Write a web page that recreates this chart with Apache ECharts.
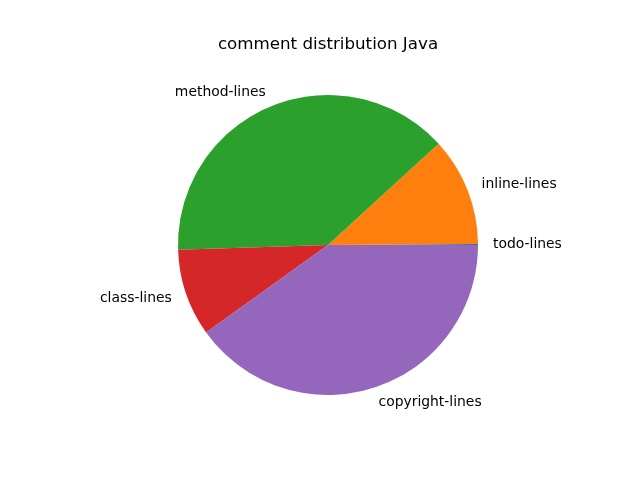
<!DOCTYPE html>
<html>
<head>
<meta charset="utf-8">
<script src="https://cdn.jsdelivr.net/npm/echarts@6/dist/echarts.min.js"></script>
<style>html,body{margin:0;padding:0;background:#fff}#c{width:640px;height:486px}</style>
</head>
<body>
<div id="c"></div>
<script>
const categories = ['todo-lines', 'inline-lines', 'method-lines', 'class-lines', 'copyright-lines'];
const values = [0.1, 11.7, 38.7, 9.4, 40.1];
const colors = ['#1f77b4', '#ff7f0e', '#2ca02c', '#d62728', '#9467bd'];

const chart = echarts.init(document.getElementById('c'), null, {renderer: 'canvas'});
chart.setOption({
  animation: false,
  backgroundColor: '#ffffff',
  title: {
    text: 'comment distribution Java',
    left: 323, top: 31, textAlign: 'center',
    textStyle: {fontFamily: 'DejaVu Sans', fontSize: 16.7, fontWeight: 'normal', color: '#000'}
  },
  series: [{
    type: 'pie',
    center: [328, 245],
    radius: [0, 150],
    startAngle: 0,
    clockwise: false,
    avoidLabelOverlap: false,
    minShowLabelAngle: 0,
    data: categories.map((n, i) => ({name: n, value: values[i], itemStyle: {color: colors[i]}})),
    itemStyle: {borderWidth: 0},
    label: {
      show: true, position: 'outside', formatter: '{b}', distanceToLabelLine: 0,
      fontFamily: 'DejaVu Sans', fontSize: 13.9, color: '#000'
    },
    labelLine: {show: false, length: 15, length2: 0},
    emphasis: {disabled: true}
  }]
});
</script>
</body>
</html>
